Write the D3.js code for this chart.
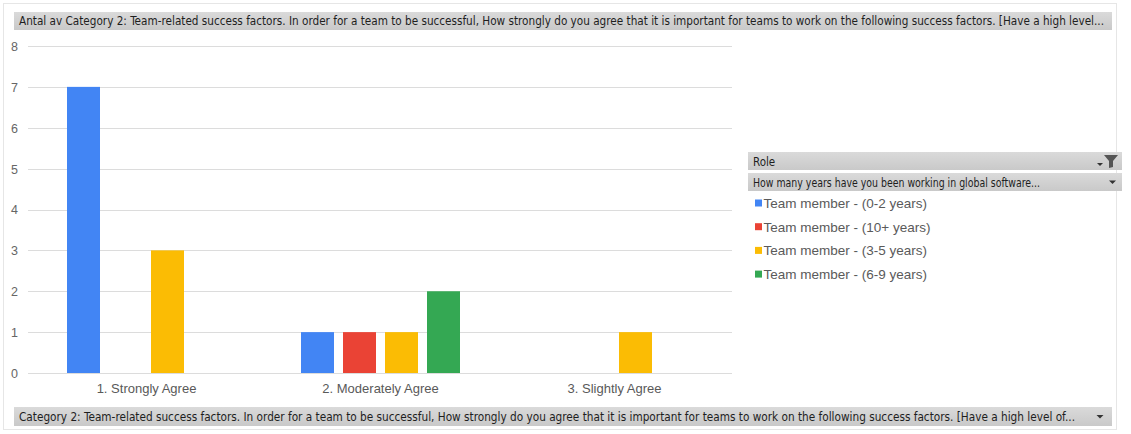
<!DOCTYPE html>
<html>
<head>
<meta charset="utf-8">
<script src="https://cdn.jsdelivr.net/npm/d3@7"></script>
<style>
  html, body { margin: 0; padding: 0; background: #fff; }
  svg { display: block; }
</style>
</head>
<body>
<svg id="chart" width="1131" height="434"></svg>
<script>
// Answer categories on the x axis
const categories = ["1. Strongly Agree", "2. Moderately Agree", "3. Slightly Agree"];
// Series (role / experience groups)
const seriesNames = [
  "Team member - (0-2 years)",
  "Team member - (10+ years)",
  "Team member - (3-5 years)",
  "Team member - (6-9 years)"
];
const values0to2 = [7, 1, 0];
const values10plus = [0, 1, 0];
const values3to5 = [3, 1, 1];
const values6to9 = [0, 2, 0];
const seriesColors = ["#4285f4", "#ea4335", "#fbbc04", "#34a853"];
const yTicks = [0, 1, 2, 3, 4, 5, 6, 7, 8];

const titleText = "Antal av Category 2: Team-related success factors. In order for a team to be successful, How strongly do you agree that it is important for teams to work on the following success factors. [Have a high level...";
const axisFieldText = "Category 2: Team-related success factors. In order for a team to be successful, How strongly do you agree that it is important for teams to work on the following success factors. [Have a high level of...";
const legendHeader = "Role";
const legendSubHeader = "How many years have you been working in global software...";

const seriesValues = [values0to2, values10plus, values3to5, values6to9];

const svg = d3.select("#chart");

// gradient for the pivot field buttons
const defs = svg.append("defs");
const grad = defs.append("linearGradient").attr("id", "btn").attr("x1", 0).attr("y1", 0).attr("x2", 0).attr("y2", 1);
grad.append("stop").attr("offset", "0%").attr("stop-color", "#dadada");
grad.append("stop").attr("offset", "100%").attr("stop-color", "#c9c9c9");

// outer chart frame
svg.append("rect").attr("x", 3.5).attr("y", 3.5).attr("width", 1113).attr("height", 426)
  .attr("fill", "none").attr("stroke", "#e6e6e6");

const btnFont = "'DejaVu Sans Condensed', 'Liberation Sans', sans-serif";

function fieldButton(x, y, w, h, text, textW, arrow) {
  const g = svg.append("g");
  g.append("rect").attr("x", x).attr("y", y).attr("width", w).attr("height", h).attr("fill", "url(#btn)");
  g.append("text").attr("x", x + 5).attr("y", y + h / 2 + 4)
    .attr("font-family", btnFont).attr("font-size", 11.5).attr("fill", "#1e1e1e")
    .attr("textLength", textW).attr("lengthAdjust", "spacingAndGlyphs")
    .text(text);
  if (arrow) {
    const ax = x + w - 12, ay = y + h / 2;
    g.append("path").attr("d", `M${ax - 3.5},${ay - 1.5} L${ax + 3.5},${ay - 1.5} L${ax},${ay + 2} Z`).attr("fill", "#333");
  }
  return g;
}

// top field (values)
fieldButton(14, 12, 1098, 18, titleText, 1085, false);
// bottom field (axis)
fieldButton(14, 407, 1098, 19, axisFieldText, 1056, true);

// plot area
const plotLeft = 29.5, plotRight = 731.5, plotTop = 46, plotBottom = 373;

const y = d3.scaleLinear().domain([0, 8]).range([plotBottom, plotTop]);
const x0 = d3.scaleBand().domain(categories).range([plotLeft, plotRight]).paddingInner(0).paddingOuter(0);
const x1 = d3.scaleBand().domain(seriesNames).range([0, x0.bandwidth()])
  .paddingInner(9 / 42).paddingOuter(37.5 / 42);
const color = d3.scaleOrdinal().domain(seriesNames).range(seriesColors);

// gridlines + y labels
const yAxis = svg.append("g").attr("transform", `translate(${plotLeft - 2},0)`)
  .call(d3.axisLeft(y).tickValues(yTicks).tickFormat(d3.format("d"))
    .tickSize(-(plotRight - plotLeft + 2)).tickPadding(8));
yAxis.select(".domain").remove();
yAxis.selectAll(".tick line").attr("stroke", "#dcdcdc").attr("shape-rendering", "crispEdges");
yAxis.selectAll(".tick text").attr("font-family", "'Liberation Sans', Arial, sans-serif")
  .attr("font-size", 12.5).attr("fill", "#666").attr("text-anchor", "middle").attr("x", -13).attr("dy", "0.35em");

// bars
const groups = svg.append("g").selectAll("g").data(categories).join("g")
  .attr("transform", d => `translate(${x0(d)},0)`);
groups.selectAll("rect")
  .data((c, ci) => seriesNames.map((s, si) => ({ s, v: seriesValues[si][ci] })).filter(d => d.v > 0))
  .join("rect")
  .attr("x", d => x1(d.s))
  .attr("width", x1.bandwidth())
  .attr("y", d => y(d.v))
  .attr("height", d => y(0) - y(d.v))
  .attr("fill", d => color(d.s));

// category labels
const xAxis = svg.append("g").attr("transform", `translate(0,${plotBottom})`)
  .call(d3.axisBottom(x0).tickSize(0).tickPadding(11));
xAxis.select(".domain").remove();
xAxis.selectAll(".tick text").attr("font-family", "'Liberation Sans', Arial, sans-serif")
  .attr("font-size", 13).attr("fill", "#595959");

// legend
const lg = svg.append("g");
lg.append("rect").attr("x", 748).attr("y", 152).attr("width", 374).attr("height", 18).attr("fill", "url(#btn)");
lg.append("text").attr("x", 753).attr("y", 165.5).attr("font-family", btnFont).attr("font-size", 11.5)
  .attr("fill", "#1e1e1e").text(legendHeader);
// sort arrow and filter funnel
lg.append("path").attr("d", "M1097,163 L1103,163 L1100,166 Z").attr("fill", "#333");
lg.append("path").attr("d", "M1104,155 L1118,155 L1113,161 L1113,167 L1109,168 L1109,161 Z").attr("fill", "#555");
lg.append("rect").attr("x", 748).attr("y", 173).attr("width", 374).attr("height", 18).attr("fill", "url(#btn)");
lg.append("text").attr("x", 753).attr("y", 186.5).attr("font-family", btnFont).attr("font-size", 11.5)
  .attr("fill", "#1e1e1e").attr("textLength", 287).attr("lengthAdjust", "spacingAndGlyphs").text(legendSubHeader);
lg.append("path").attr("d", "M1109,180.5 L1116,180.5 L1112.5,184 Z").attr("fill", "#333");

const items = lg.selectAll("g.item").data(seriesNames).join("g").attr("class", "item")
  .attr("transform", (d, i) => `translate(755,${203 + i * 23.7})`);
items.append("rect").attr("x", 0).attr("y", -3.5).attr("width", 7).attr("height", 7).attr("fill", d => color(d));
items.append("text").attr("x", 8.5).attr("y", 0).attr("dy", "0.36em")
  .attr("font-family", "'Liberation Sans', Arial, sans-serif").attr("font-size", 13.5).attr("fill", "#5a5a5a")
  .text(d => d);
</script>
</body>
</html>
